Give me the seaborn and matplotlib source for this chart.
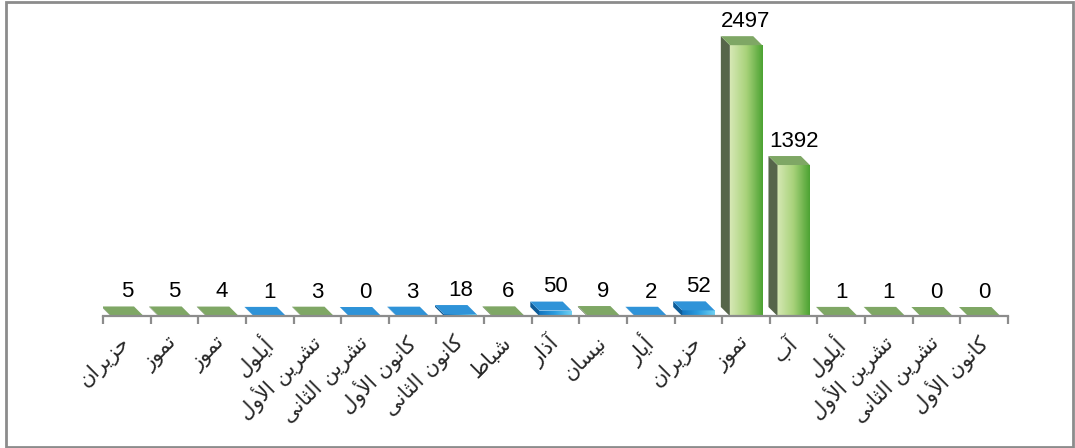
import numpy as np
import pandas as pd
import matplotlib
matplotlib.use("Agg")
import matplotlib.pyplot as plt
from matplotlib.patches import Polygon, Rectangle
from matplotlib.colors import LinearSegmentedColormap
import seaborn as sns

# ---------------- data ----------------
months = ["حزيران", "تموز", "تموز", "أيلول", "تشرين الأول", "تشرين الثانى",
          "كانون الأول", "كانون الثانى", "شباط", "آذار", "نيسان", "أيار",
          "حزيران", "تموز", "آب", "أيلول", "تشرين الأول", "تشرين الثانى",
          "كانون الأول"]
values = [5, 5, 4, 1, 3, 0, 3, 18, 6, 50, 9, 2, 52, 2497, 1392, 1, 1, 0, 0]
groups = ["g", "g", "g", "b", "g", "b", "b", "b", "g", "b", "g", "b", "b",
          "g", "g", "g", "g", "g", "g"]

# ---------------- minimal Arabic shaping (matplotlib has no RTL shaping) ----------------
FORMS = {
    "ا": ("\uFE8D", "\uFE8E"), "أ": ("\uFE83", "\uFE84"), "آ": ("\uFE81", "\uFE82"),
    "ب": ("\uFE8F", "\uFE90", "\uFE91", "\uFE92"), "ت": ("\uFE95", "\uFE96", "\uFE97", "\uFE98"),
    "ث": ("\uFE99", "\uFE9A", "\uFE9B", "\uFE9C"), "ح": ("\uFEA1", "\uFEA2", "\uFEA3", "\uFEA4"),
    "ذ": ("\uFEAB", "\uFEAC"), "ر": ("\uFEAD", "\uFEAE"), "ز": ("\uFEAF", "\uFEB0"),
    "س": ("\uFEB1", "\uFEB2", "\uFEB3", "\uFEB4"), "ش": ("\uFEB5", "\uFEB6", "\uFEB7", "\uFEB8"),
    "ط": ("\uFEC1", "\uFEC2", "\uFEC3", "\uFEC4"), "ك": ("\uFED9", "\uFEDA", "\uFEDB", "\uFEDC"),
    "ل": ("\uFEDD", "\uFEDE", "\uFEDF", "\uFEE0"), "م": ("\uFEE1", "\uFEE2", "\uFEE3", "\uFEE4"),
    "ن": ("\uFEE5", "\uFEE6", "\uFEE7", "\uFEE8"), "و": ("\uFEED", "\uFEEE"),
    "ى": ("\uFEEF", "\uFEF0"), "ي": ("\uFEF1", "\uFEF2", "\uFEF3", "\uFEF4"),
}
LAMALEF = {"ا": ("\uFEFB", "\uFEFC"), "أ": ("\uFEF7", "\uFEF8"), "آ": ("\uFEF5", "\uFEF6")}


def shape_rtl(text):
    out, prev_conn, i, n = [], False, 0, len(text)
    while i < n:
        c = text[i]
        if c not in FORMS:
            out.append(c); prev_conn = False; i += 1; continue
        if c == "ل" and i + 1 < n and text[i + 1] in LAMALEF:
            iso, fin = LAMALEF[text[i + 1]]
            out.append(fin if prev_conn else iso); prev_conn = False; i += 2; continue
        f = FORMS[c]
        dual = len(f) == 4
        nxt = text[i + 1] if i + 1 < n else None
        next_conn = dual and nxt in FORMS
        if prev_conn and next_conn:
            g = f[3]
        elif prev_conn:
            g = f[1]
        elif next_conn:
            g = f[2]
        else:
            g = f[0]
        out.append(g); prev_conn = dual; i += 1
    return "".join(reversed(out))


# ---------------- figure ----------------
sns.set_theme(style="white")
plt.rcParams["font.family"] = ["Liberation Sans", "DejaVu Sans"]

W, H = 1075, 448
fig = plt.figure(figsize=(W / 100, H / 100), dpi=100)
fig.patch.set_facecolor("white")
ax_l, ax_r, ax_b, ax_t = 103, 1008, 316, 34
ax = fig.add_axes([ax_l / W, (H - ax_b) / H, (ax_r - ax_l) / W, (ax_b - ax_t) / H])

YMAX = 2600
df = pd.DataFrame({"pos": list(range(len(values))), "value": values, "grp": groups})
palette = {"g": "#8cc063", "b": "#2a8fd4"}
sns.barplot(data=df, x="pos", y="value", hue="grp", palette=palette, dodge=False,
            width=0.68, ax=ax, legend=False, saturation=1, edgecolor="none")

ax.set_xlim(-0.5, len(values) - 0.5)
ax.set_ylim(0, YMAX)

# pixel -> data conversions for pseudo-3D depth
px_x = (len(values)) / (ax_r - ax_l)
px_y = YMAX / (ax_b - ax_t)
dx, dy = 9 * px_x, 9 * px_y

front_cmaps = {
    "g": LinearSegmentedColormap.from_list("gf", ["#d6e8b4", "#a8d27a", "#4da333"]),
    "b": LinearSegmentedColormap.from_list("bf", ["#1476c0", "#2c9ee0", "#6fd0f2"]),
}
side_col = {"g": "#56654a", "b": "#0e5c98"}
top_col = {"g": "#7fa765", "b": "#2f93d8"}
grad = np.linspace(0, 1, 64).reshape(1, -1)

for p in list(ax.patches):
    x0, w, h = p.get_x(), p.get_width(), p.get_height()
    if np.isnan(h):
        continue
    idx = int(round(x0 + w / 2))
    g = groups[idx]
    x1 = x0 + w
    if h > 0:
        im = ax.imshow(grad, extent=[x0, x1, 0, h], aspect="auto", cmap=front_cmaps[g],
                       zorder=2.1, interpolation="bilinear")
        im.set_clip_path(p)
    side = Polygon([(x0, 0), (x0, h), (x0 - dx, h + dy), (x0 - dx, dy)],
                   closed=True, facecolor=side_col[g], edgecolor="none", zorder=2.2)
    top = Polygon([(x0, h), (x1, h), (x1 - dx, h + dy), (x0 - dx, h + dy)],
                  closed=True, facecolor=top_col[g], edgecolor="none", zorder=2.3)
    ax.add_patch(side)
    ax.add_patch(top)
    ax.annotate(str(values[idx]), (idx, h + dy), xytext=(0, 3), textcoords="offset points",
                ha="center", va="bottom", fontsize=16, family="Liberation Sans",
                color="black", zorder=5)

ax.set_xlim(-0.5, len(values) - 0.5)
ax.set_ylim(0, YMAX)

for s in ["top", "right", "left"]:
    ax.spines[s].set_visible(False)
ax.spines["bottom"].set_color("#8c8c8c")
ax.spines["bottom"].set_linewidth(1.6)
ax.set_yticks([])
ax.set_xlabel("")
ax.set_ylabel("")

ax.set_xticks(np.arange(len(values)))
ax.set_xticklabels([shape_rtl(m) for m in months], rotation=45, ha="right", va="center",
                   rotation_mode="anchor", fontsize=15, family=["DejaVu Sans"])
ax.tick_params(axis="x", which="major", length=0, pad=17, bottom=False)
ax.set_xticks(np.arange(-0.5, len(values), 1), minor=True)
ax.tick_params(axis="x", which="minor", length=6, width=1.6, color="#8c8c8c",
               direction="out", bottom=True)

# outer chart border
fig.add_artist(Rectangle((6 / W, 1 / H), (1073 - 6) / W, (446 - 1) / H, transform=fig.transFigure,
                         fill=False, edgecolor="#8c8c8c", linewidth=2))

fig.savefig("out.png", dpi=100)
